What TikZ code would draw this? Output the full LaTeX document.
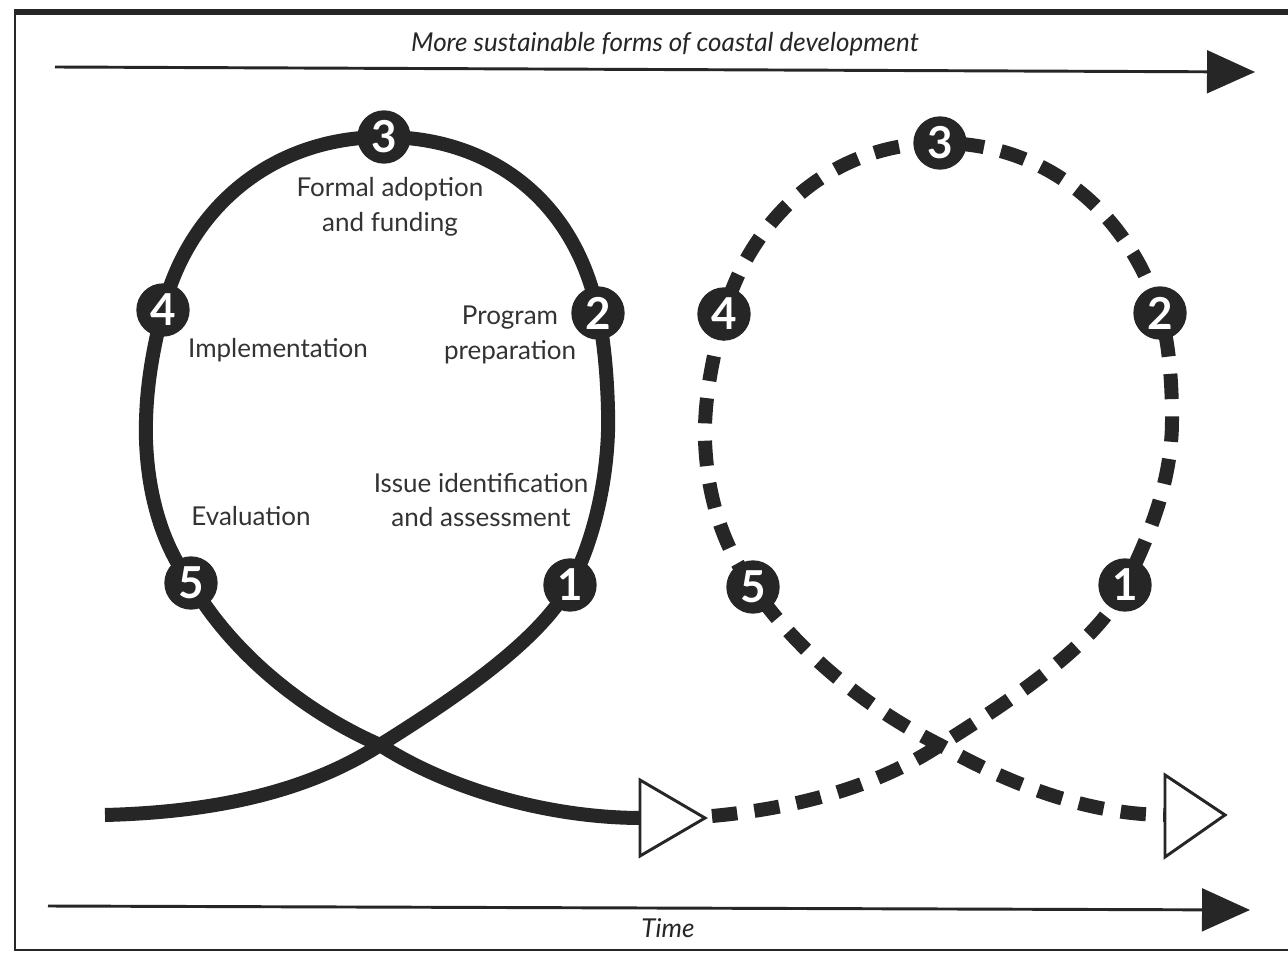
\documentclass[tikz,border=0pt]{standalone}
\usepackage{fontspec}
\setmainfont{Lato}
\usetikzlibrary{arrows.meta,backgrounds}
\begin{document}
\begin{tikzpicture}[x=0.75pt,y=-0.75pt,
  stage/.style={circle,fill=black!85,text=white,font=\fontsize{33}{33}\selectfont\bfseries,minimum size=40pt,inner sep=0pt},
  lbl/.style={font=\fontsize{19.5}{26}\selectfont,align=center,text=black!80},
  axislbl/.style={font=\fontsize{19.5}{20}\selectfont\itshape,text=black!85},
  loopline/.style={line width=10.5pt,draw=black!85},
  dashline/.style={line width=10.5pt,draw=black!85,dash pattern=on 19pt off 13pt},
  headtri/.style={draw=black!85,line width=2.2pt,fill=white,line join=miter},
  axisline/.style={line width=2.2pt,draw=black!85,-{Triangle[length=36pt,width=32pt]}},
  framel/.style={draw=black!85}
]
\useasboundingbox (0,0) rectangle (1288,955);
% frame
\draw[framel,line width=4.5pt] (14,12) -- (1300,12);
\draw[framel,line width=2pt] (15,11) -- (15,951);
\draw[framel,line width=2pt] (14,950) -- (1300,950);

% axes
\coordinate (topA) at (55,67);
\coordinate (topB) at (1255,72);
\draw[axisline] (topA) -- (topB);
\node[axislbl] (toplbl) at (665,44) {More sustainable forms of coastal development};
\coordinate (botA) at (48,906);
\coordinate (botB) at (1250,910);
\draw[axisline] (botA) -- (botB);
\node[axislbl] (timelbl) at (668,928) {Time};

% left loop stages
\node[stage] (L1) at (570,585) {1};
\node[stage] (L2) at (598,313) {2};
\node[stage] (L3) at (384,137) {3};
\node[stage] (L4) at (163,310) {4};
\node[stage] (L5) at (191,583) {5};
\coordinate (A0) at (105,815);
\coordinate (B1) at (642,818);

% right loop stages
\node[stage] (R1) at (1125,585) {1};
\node[stage] (R2) at (1160,313) {2};
\node[stage] (R3) at (940,143) {3};
\node[stage] (R4) at (724,314) {4};
\node[stage] (R5) at (753,587) {5};
\coordinate (S2) at (712,816);
\coordinate (E2) at (1167,815);

\begin{pgfonlayer}{background}
\fill[white] (0,0) rectangle (1288,955);
\draw[loopline] (A0) .. controls (220,812) and (310,790) .. (380,745)
  .. controls (460,695) and (540,640) .. (L1.center)
  .. controls (595,540) and (610,470) .. (608,410)
  .. controls (607,370) and (603,335) .. (L2.center)
  .. controls (575,200) and (490,137) .. (L3.center)
  .. controls (270,137) and (188,210) .. (L4.center)
  .. controls (150,360) and (145,400) .. (146,440)
  .. controls (148,500) and (165,550) .. (L5.center)
  .. controls (230,650) and (300,710) .. (380,745)
  .. controls (450,790) and (550,818) .. (B1);
\draw[dashline] (S2) .. controls (800,808) and (880,785) .. (940,745)
  .. controls (1020,695) and (1100,640) .. (R1.center)
  .. controls (1150,535) and (1172,480) .. (1172,420)
  .. controls (1172,370) and (1167,335) .. (R2.center)
  .. controls (1125,205) and (1040,143) .. (R3.center)
  .. controls (830,143) and (750,220) .. (R4.center)
  .. controls (712,360) and (704,400) .. (705,440)
  .. controls (707,500) and (725,550) .. (R5.center)
  .. controls (800,655) and (870,710) .. (940,745)
  .. controls (1010,785) and (1090,815) .. (E2);
\end{pgfonlayer}

% open arrowheads
\draw[headtri] (640,780) -- (705,818) -- (640,856) -- cycle;
\draw[headtri] (1165,775) -- (1225,815) -- (1165,857) -- cycle;

% labels
\node[lbl] (t3) at (390,207) {Formal adoption\\and funding};
\node[lbl] (t2) at (510,335) {Program\\preparation};
\node[lbl] (t4) at (278,350) {Implementation};
\node[lbl] (t1) at (481,500) {Issue identification\\and assessment};
\node[lbl] (t5) at (251,516) {Evaluation};
\end{tikzpicture}
\end{document}
